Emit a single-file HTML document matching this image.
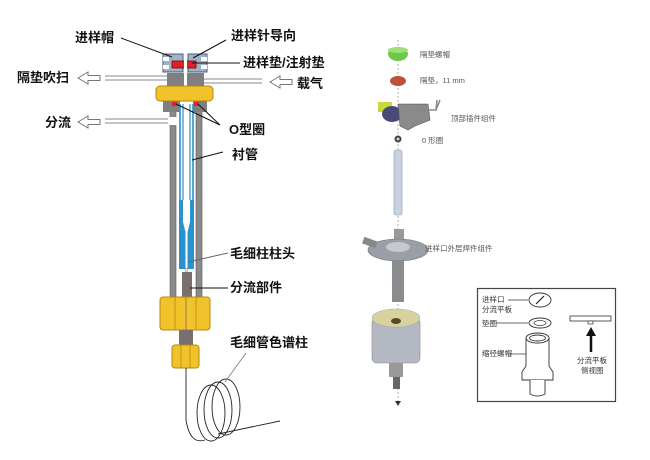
<!DOCTYPE html>
<html><head><meta charset="utf-8"><style>
html,body{margin:0;padding:0;background:#fff;}
svg{display:block;}
.b{font-family:"Liberation Sans","Noto Sans CJK SC",sans-serif;font-weight:bold;font-size:13px;fill:#111;}
.s{font-family:"Liberation Sans","Noto Sans CJK SC",sans-serif;font-size:7.5px;fill:#555;}
.k{font-family:"Liberation Sans","Noto Sans CJK SC",sans-serif;font-size:7.5px;fill:#333;}
</style></head><body>
<svg width="650" height="460" viewBox="0 0 650 460" xmlns="http://www.w3.org/2000/svg">
<rect width="650" height="460" fill="#fff"/>
<!-- LEFT DIAGRAM -->
<!-- purge/carrier lines -->
<line x1="105" y1="76" x2="172" y2="76" stroke="#888" stroke-width="1"/>
<line x1="105" y1="80" x2="172" y2="80" stroke="#888" stroke-width="1"/>
<line x1="198" y1="79" x2="262" y2="79" stroke="#888" stroke-width="1"/>
<line x1="198" y1="83" x2="262" y2="83" stroke="#888" stroke-width="1"/>
<line x1="105" y1="119" x2="172" y2="119" stroke="#888" stroke-width="1"/>
<line x1="105" y1="123" x2="172" y2="123" stroke="#888" stroke-width="1"/>
<!-- outline arrows -->
<g fill="#fff" stroke="#777" stroke-width="1">
<path d="M78,78 L88,72 L88,75.5 L100,75.5 L100,80.5 L88,80.5 L88,84 Z"/>
<path d="M270,82 L280,76 L280,79.5 L292,79.5 L292,84.5 L280,84.5 L280,88 Z"/>
<path d="M78,122 L88,116 L88,119.5 L100,119.5 L100,124.5 L88,124.5 L88,128 Z"/>
</g>
<!-- tube walls -->
<rect x="170" y="108" width="6" height="190" fill="#8a8a8a" stroke="#555" stroke-width="0.6"/>
<rect x="196" y="108" width="6" height="190" fill="#8a8a8a" stroke="#555" stroke-width="0.6"/>
<rect x="168" y="117" width="9" height="8" fill="#fff"/>
<!-- liner -->
<line x1="180" y1="104" x2="180" y2="268" stroke="#2a8fc8" stroke-width="1.6"/>
<line x1="193" y1="104" x2="193" y2="268" stroke="#2a8fc8" stroke-width="1.6"/>
<line x1="183" y1="104" x2="183" y2="220" stroke="#2a8fc8" stroke-width="1.2"/>
<line x1="190" y1="104" x2="190" y2="220" stroke="#2a8fc8" stroke-width="1.2"/>
<path d="M179,200 L194,200 L194,269 L179,269 Z" fill="#2a92d0"/>
<path d="M183,200 L190,200 L190,222 L187.5,232 L187.5,269 L185.5,269 L185.5,232 L183,222 Z" fill="#fff"/>
<circle cx="186.5" cy="270" r="1.5" fill="#fff" stroke="#666" stroke-width="0.5"/>
<!-- split part -->
<rect x="182" y="272" width="10" height="28" fill="#7a6e6e"/>
<!-- cap -->
<path d="M163,54 L183,54 L183,72 L163,72 Z" fill="#9fb3c8" stroke="#4a5e78" stroke-width="1"/>
<path d="M188,54 L207,54 L207,72 L188,72 Z" fill="#9fb3c8" stroke="#4a5e78" stroke-width="1"/>
<rect x="163" y="57" width="6" height="4" fill="#fff"/>
<rect x="201" y="57" width="6" height="4" fill="#fff"/>
<rect x="163" y="65" width="6" height="4" fill="#fff"/>
<rect x="201" y="65" width="6" height="4" fill="#fff"/>
<rect x="172" y="61" width="24" height="7" fill="#d22" stroke="#800" stroke-width="0.8"/>
<rect x="184" y="52" width="3" height="22" fill="#fff"/>
<!-- gray block -->
<rect x="167" y="73" width="17" height="13" fill="#7f7f7f"/>
<rect x="187" y="73" width="17" height="13" fill="#7f7f7f"/>
<!-- yellow nut -->
<rect x="156" y="86" width="57" height="15" rx="4" fill="#f2c22a" stroke="#b08a10" stroke-width="1"/>
<!-- lower block -->
<rect x="163" y="101" width="17" height="11" fill="#7f7f7f"/>
<rect x="193" y="101" width="14" height="11" fill="#7f7f7f"/>
<rect x="172" y="102" width="5" height="4" fill="#d23" />
<rect x="194" y="102" width="5" height="4" fill="#d23" />
<!-- big yellow nut -->
<rect x="160" y="297" width="50" height="33" rx="3" fill="#f2c22a" stroke="#b08a10" stroke-width="1"/>
<line x1="175" y1="297" x2="175" y2="330" stroke="#b08a10" stroke-width="0.8"/>
<line x1="196" y1="297" x2="196" y2="330" stroke="#b08a10" stroke-width="0.8"/>
<line x1="186" y1="297" x2="186" y2="330" stroke="#7a6e6e" stroke-width="0.8"/>
<rect x="179" y="330" width="14" height="16" fill="#7a6e6e"/>
<rect x="172" y="345" width="27" height="23" rx="3" fill="#f2c22a" stroke="#b08a10" stroke-width="1"/>
<line x1="181" y1="345" x2="181" y2="368" stroke="#b08a10" stroke-width="0.8"/>
<line x1="190" y1="345" x2="190" y2="368" stroke="#b08a10" stroke-width="0.8"/>
<!-- column coil -->
<g fill="none" stroke="#222" stroke-width="0.9">
<path d="M186,368 L186,420 Q190,445 205,440"/>
<ellipse cx="211" cy="413" rx="14" ry="28"/>
<ellipse cx="218" cy="410" rx="14" ry="28"/>
<ellipse cx="226" cy="407" rx="14" ry="28"/>
<line x1="218" y1="434" x2="280" y2="421"/>
</g>
<!-- leader lines -->
<g stroke="#111" stroke-width="1" fill="none">
<line x1="121" y1="38" x2="172" y2="57"/>
<line x1="226" y1="40" x2="193" y2="58"/>
<line x1="240" y1="63" x2="192" y2="63"/>
<line x1="220" y1="125" x2="176" y2="104"/>
<line x1="220" y1="125" x2="198" y2="104"/>
<line x1="223" y1="152" x2="192" y2="160"/>
<line x1="228" y1="253" x2="188" y2="262" stroke="#666"/>
<line x1="228" y1="288" x2="190" y2="288"/>
<line x1="246" y1="353" x2="225" y2="382" stroke="#888"/>
</g>
<!-- labels -->
<text class="b" x="75" y="42">进样帽</text>
<text class="b" x="231" y="40">进样针导向</text>
<text class="b" x="243" y="67">进样垫/注射垫</text>
<text class="b" x="17" y="82">隔垫吹扫</text>
<text class="b" x="297" y="88">载气</text>
<text class="b" x="45" y="127">分流</text>
<text class="b" x="229" y="134">O型圈</text>
<text class="b" x="232" y="159">衬管</text>
<text class="b" x="230" y="258">毛细柱柱头</text>
<text class="b" x="230" y="292">分流部件</text>
<text class="b" x="230" y="347">毛细管色谱柱</text>

<!-- MIDDLE EXPLODED VIEW -->
<line x1="398" y1="40" x2="398" y2="405" stroke="#999" stroke-width="0.8" stroke-dasharray="2,2"/>
<ellipse cx="398" cy="54" rx="10" ry="7" fill="#6cc848"/>
<ellipse cx="398" cy="50" rx="10" ry="3" fill="#9be07a"/>
<ellipse cx="398" cy="81" rx="8" ry="5" fill="#c0503a"/>
<!-- top insert -->
<rect x="378" y="102" width="14" height="10" fill="#c8d840"/>
<ellipse cx="392" cy="114" rx="10" ry="8" fill="#4a4a7a"/>
<path d="M398,104 L428,104 L430,120 L415,126 L408,130 L400,126 Z" fill="#8a8a8a" stroke="#555" stroke-width="0.6"/>
<path d="M410,110 L436,110 L437,100 M436,110 L440,100" stroke="#888" stroke-width="1.5" fill="none"/>
<circle cx="398" cy="139" r="3.5" fill="#444"/>
<circle cx="398" cy="139" r="1.5" fill="#ccc"/>
<!-- liner -->
<rect x="394" y="150" width="8" height="65" rx="2" fill="#c8d2e0" stroke="#8898b0" stroke-width="0.6"/>
<!-- flange -->
<rect x="394" y="229" width="10" height="10" fill="#999"/>
<ellipse cx="398" cy="250" rx="30" ry="11" fill="#9a9ea6" stroke="#6a6e76" stroke-width="0.6"/>
<ellipse cx="398" cy="247" rx="12" ry="5" fill="#c5c8cc"/>
<rect x="363" y="239" width="14" height="7" fill="#888" transform="rotate(20 370 242)"/>
<rect x="392" y="260" width="12" height="42" fill="#8a8c90"/>
<!-- body -->
<rect x="372" y="318" width="48" height="45" rx="5" fill="#b4b8c2" stroke="#888" stroke-width="0.6"/>
<ellipse cx="396" cy="318" rx="24" ry="9" fill="#d8d2a0" stroke="#aaa" stroke-width="0.6"/>
<ellipse cx="396" cy="321" rx="5" ry="3" fill="#5a4a20"/>
<rect x="389" y="363" width="14" height="14" fill="#999"/>
<rect x="393" y="377" width="7" height="12" fill="#666"/>
<path d="M395,401 L398,406 L401,401 Z" fill="#333"/>
<text class="s" x="420" y="57">隔垫螺帽</text>
<text class="s" x="420" y="83">隔垫，11 mm</text>
<text class="s" x="451" y="121">顶部插件组件</text>
<text class="s" x="422" y="143">0 形圈</text>
<text class="s" x="425" y="251">进样口外层焊件组件</text>

<!-- RIGHT BOX -->
<rect x="477.5" y="288.5" width="138" height="113" fill="#fff" stroke="#444" stroke-width="1.2"/>
<text class="k" x="482" y="302">进样口</text>
<text class="k" x="482" y="312">分流平板</text>
<line x1="508" y1="300" x2="528" y2="300" stroke="#333" stroke-width="0.7"/>
<ellipse cx="540" cy="300" rx="11" ry="7" fill="#fff" stroke="#333" stroke-width="0.9"/>
<line x1="536" y1="304" x2="544" y2="296" stroke="#222" stroke-width="1.2"/>
<text class="k" x="482" y="326">垫圈</text>
<line x1="496" y1="323" x2="528" y2="323" stroke="#333" stroke-width="0.7"/>
<ellipse cx="540" cy="323" rx="11" ry="5" fill="#fff" stroke="#333" stroke-width="0.9"/>
<ellipse cx="540" cy="323" rx="6" ry="2.5" fill="#fff" stroke="#333" stroke-width="0.7"/>
<text class="k" x="482" y="356">缩径螺帽</text>
<line x1="510" y1="354" x2="526" y2="354" stroke="#333" stroke-width="0.7"/>
<g fill="#fff" stroke="#333" stroke-width="0.9">
<path d="M526,338 L526,366 L522,372 L522,380 L553,380 L553,372 L549,366 L549,338"/>
<ellipse cx="537.5" cy="338" rx="11.5" ry="5"/>
<ellipse cx="537.5" cy="338" rx="8" ry="3"/>
<path d="M530,380 L530,394 Q537.5,398 545,394 L545,380"/>
</g>
<rect x="570" y="316" width="41" height="5" fill="#fff" stroke="#333" stroke-width="0.8"/>
<rect x="588" y="321" width="5" height="3" fill="#fff" stroke="#333" stroke-width="0.7"/>
<line x1="591" y1="352" x2="591" y2="334" stroke="#111" stroke-width="2.5"/>
<path d="M586,336 L591,327 L596,336 Z" fill="#111"/>
<text class="k" x="577" y="363">分流平板</text>
<text class="k" x="581" y="373">侧视图</text>
</svg>
</body></html>
